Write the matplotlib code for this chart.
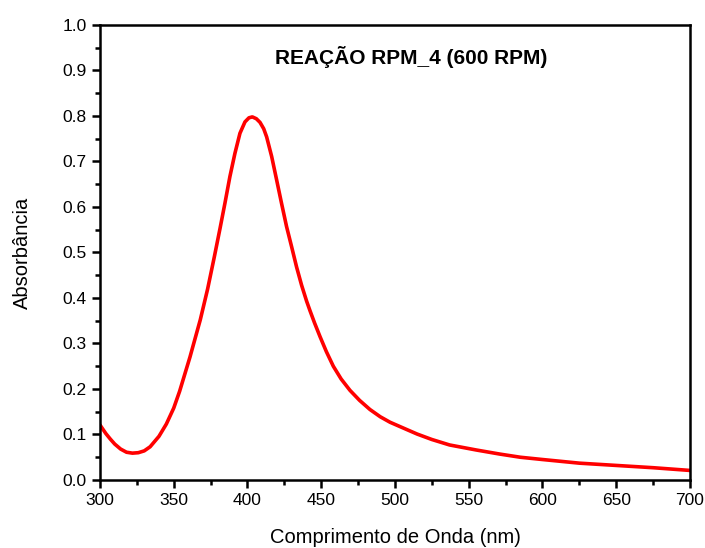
import matplotlib
matplotlib.use("Agg")
import matplotlib.pyplot as plt
from matplotlib.ticker import MultipleLocator

# UV-Vis spectrum
wavelength = [300, 304, 307, 310, 314, 318, 322, 326, 330, 334, 340, 345, 350,
              354, 361, 368, 373, 377.5, 381.4, 384.7, 388.1, 391.5, 394.9,
              398.3, 401, 403.3, 406, 408.5, 411, 413, 416.4, 419.8, 423.1,
              426.5, 429.9, 433.3, 436.7, 440.1, 442.4, 445.5, 449.2, 453.5,
              458.2, 463.5, 469.5, 476, 483, 490, 496.6, 507.9, 515, 525, 537,
              555, 571, 585, 600, 625, 650, 675, 700]
absorbance = [0.121, 0.102, 0.090, 0.079, 0.068, 0.061, 0.059, 0.060, 0.064,
              0.073, 0.096, 0.123, 0.158, 0.195, 0.270, 0.352, 0.420, 0.490,
              0.553, 0.608, 0.667, 0.718, 0.762, 0.787, 0.796, 0.798, 0.794,
              0.786, 0.772, 0.754, 0.711, 0.659, 0.608, 0.557, 0.513, 0.468,
              0.428, 0.393, 0.372, 0.345, 0.315, 0.282, 0.250, 0.222, 0.197,
              0.175, 0.155, 0.139, 0.127, 0.111, 0.101, 0.089, 0.077, 0.066,
              0.057, 0.050, 0.045, 0.037, 0.032, 0.027, 0.021]

plt.rcParams['font.family'] = ['Liberation Sans', 'DejaVu Sans']

fig = plt.figure(figsize=(7.05, 5.48), dpi=100)
ax = fig.add_axes([0.1418, 0.1241, 0.8369, 0.8303])

ax.plot(wavelength, absorbance, color='red', linewidth=2.6,
        solid_capstyle='round', solid_joinstyle='round')

ax.set_xlim(300, 700)
ax.set_ylim(0, 1.0)
ax.xaxis.set_major_locator(MultipleLocator(50))
ax.xaxis.set_minor_locator(MultipleLocator(25))
ax.yaxis.set_major_locator(MultipleLocator(0.1))
ax.yaxis.set_minor_locator(MultipleLocator(0.05))
ax.xaxis.set_major_formatter(matplotlib.ticker.FormatStrFormatter('%d'))
ax.yaxis.set_major_formatter(matplotlib.ticker.FormatStrFormatter('%.1f'))

for s in ax.spines.values():
    s.set_linewidth(1.8)
ax.tick_params(which='major', direction='out', length=6, width=1.8, labelsize=12.5)
ax.tick_params(which='minor', direction='out', length=3.5, width=1.8)
ax.tick_params(top=False, right=False)

ax.set_xlabel('Comprimento de Onda (nm)', fontsize=14.5, labelpad=14)
ax.set_ylabel('Absorbância', fontsize=14.5, labelpad=22)
ax.text(0.527, 0.93, 'REAÇÃO RPM_4 (600 RPM)', transform=ax.transAxes,
        ha='center', va='center', fontsize=15, fontweight='bold')

fig.savefig('out.png', dpi=100)
